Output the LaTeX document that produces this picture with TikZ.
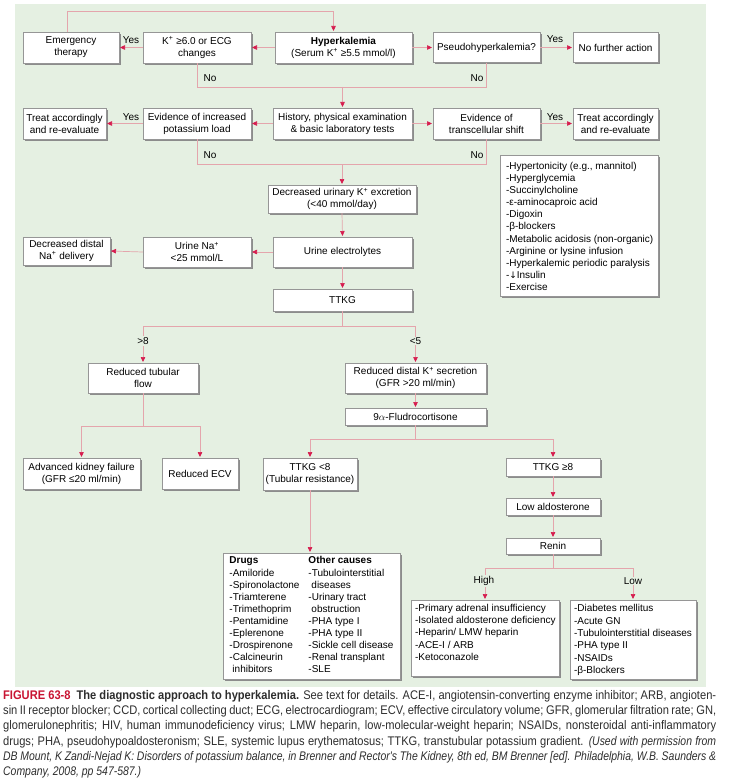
\documentclass[tikz,border=0pt]{standalone}
\usepackage{fontspec}
\setmainfont{Liberation Sans}
\newfontfamily\capfont[FakeStretch=0.89]{Liberation Sans}
\newfontfamily\capit[FakeStretch=0.835]{Liberation Sans}
\newfontfamily\dejavu{DejaVu Sans}
\usetikzlibrary{arrows.meta,shadows,calc}
\definecolor{bggreen}{RGB}{229,240,226}
\definecolor{linepink}{RGB}{228,165,172}
\definecolor{tipred}{RGB}{214,28,78}
\definecolor{boxline}{RGB}{150,150,150}
\definecolor{figred}{RGB}{200,20,50}
\definecolor{capgray}{RGB}{45,45,45}
\tikzset{
  box/.style={draw=boxline, line width=0.4pt, fill=white, inner sep=0pt, align=center,
    drop shadow={fill=black!45, opacity=1, shadow xshift=1.6pt, shadow yshift=-1.6pt}},
  conn/.style={draw=linepink, line width=0.7pt},
  arr/.style={conn, -{Triangle[length=5pt,width=4.5pt,color=tipred]}, shorten >=0.8pt},
  lbl/.style={inner sep=1pt, fill=bggreen},
}
\newcommand{\capital}[1]{{\capit\itshape #1}}
\begin{document}
\begin{tikzpicture}[x=1pt,y=-1pt, font=\fontsize{10}{12}\selectfont]
\useasboundingbox (0,0) rectangle (728,781);
\fill[bggreen] (15,4) rectangle (706,687);

% row 1
\node[box, minimum width=96pt, minimum height=31pt] (em) at (71,47.5) {Emergency\\therapy};
\node[box, minimum width=108pt, minimum height=31pt] (k6) at (197,47.5) {K\textsuperscript{+} ≥6.0 or ECG\\changes};
\node[box, minimum width=137pt, minimum height=31pt] (hk) at (343.5,47.5) {\textbf{Hyperkalemia}\\(Serum K\textsuperscript{+} ≥5.5 mmol/l)};
\node[box, minimum width=107pt, minimum height=30pt] (ps) at (486.5,47.5) {Pseudohyperkalemia?};
\node[box, minimum width=85pt, minimum height=30pt] (nf) at (615.5,47.5) {No further action};

% row 2
\node[box, minimum width=83pt, minimum height=31pt] (ta1) at (64.5,123.5) {Treat accordingly\\and re-evaluate};
\node[box, minimum width=108pt, minimum height=31pt] (ev1) at (197,123.5) {Evidence of increased\\potassium load};
\node[box, minimum width=139pt, minimum height=31pt] (hi) at (342.5,123.5) {History, physical examination\\\& basic laboratory tests};
\node[box, minimum width=107pt, minimum height=31pt] (ev2) at (486.5,123.5) {Evidence of\\transcellular shift};
\node[box, minimum width=85pt, minimum height=31pt] (ta2) at (615.5,123.5) {Treat accordingly\\and re-evaluate};

% transcellular list
\node[box, minimum width=158pt, minimum height=141pt] (tc) at (579,225.5) {\parbox[c][129pt][t]{146pt}{\fontsize{10}{12.1}\selectfont\begin{tabular}[t]{@{}l@{}}
-Hypertonicity (e.g., mannitol)\\
-Hyperglycemia\\
-Succinylcholine\\
-ε-aminocaproic acid\\
-Digoxin\\
-β-blockers\\
-Metabolic acidosis (non-organic)\\
-Arginine or lysine infusion\\
-Hyperkalemic periodic paralysis\\
-{\dejavu\fontsize{9}{12}\selectfont ↓}Insulin\\
-Exercise
\end{tabular}}};

% middle column
\node[box, minimum width=148pt, minimum height=28pt] (du) at (342,199) {Decreased urinary K\textsuperscript{+} excretion\\(<40 mmol/day)};
\node[box, minimum width=139pt, minimum height=30pt] (ue) at (342.5,252) {Urine electrolytes};
\node[box, minimum width=108pt, minimum height=30pt] (un) at (197,252) {Urine Na\textsuperscript{+}\\<25 mmol/L};
\node[box, minimum width=87pt, minimum height=28pt] (dd) at (66.5,251) {Decreased distal\\Na\textsuperscript{+} delivery};
\node[box, minimum width=139pt, minimum height=22pt] (tt) at (342.5,300) {TTKG};

\node[box, minimum width=110pt, minimum height=30pt] (rt) at (143,378) {Reduced tubular\\flow};
\node[box, minimum width=141pt, minimum height=30pt] (rd) at (415.5,378) {Reduced distal K\textsuperscript{+} secretion\\(GFR >20 ml/min)};
\node[box, minimum width=141pt, minimum height=17pt] (fl) at (415.5,416.5) {9$\alpha$-Fludrocortisone};

\node[box, minimum width=117pt, minimum height=31pt] (ak) at (81.5,473.5) {Advanced kidney failure\\(GFR ≤20 ml/min)};
\node[box, minimum width=76pt, minimum height=31pt] (re) at (200,473.5) {Reduced ECV};
\node[box, minimum width=94pt, minimum height=32pt] (t8) at (310,474) {TTKG <8\\(Tubular resistance)};
\node[box, minimum width=94pt, minimum height=18pt] (tg) at (553,467) {TTKG ≥8};
\node[box, minimum width=94pt, minimum height=17pt] (la) at (553,506.5) {Low aldosterone};
\node[box, minimum width=94pt, minimum height=16pt] (rn) at (553,546) {Renin};

% drugs box
\node[box, minimum width=177pt, minimum height=126pt] (dr) at (311.5,616) {\fontsize{10}{12.1}\selectfont\begin{tabular}{@{}p{79pt}@{}l@{}}
\textbf{Drugs} & \textbf{Other causes}\\
-Amiloride & -Tubulointerstitial\\
-Spironolactone & \hspace{3pt}diseases\\
-Triamterene & -Urinary tract\\
-Trimethoprim & \hspace{3pt}obstruction\\
-Pentamidine & -PHA type I\\
-Eplerenone & -PHA type II\\
-Drospirenone & -Sickle cell disease\\
-Calcineurin & -Renal transplant\\
\hspace{3pt}inhibitors & -SLE
\end{tabular}};

\node[box, minimum width=148pt, minimum height=76pt] (hb) at (485,638) {\parbox[c][70pt][t]{140pt}{\fontsize{10}{12.2}\selectfont\begin{tabular}[t]{@{}l@{}}
-Primary adrenal insufficiency\\
-Isolated aldosterone deficiency\\
-Heparin/ LMW heparin\\
-ACE-I / ARB\\
-Ketoconazole
\end{tabular}}};
\node[box, minimum width=126pt, minimum height=79pt] (lb) at (633,639.5) {\parbox[c][73pt][t]{118pt}{\fontsize{10}{12.4}\selectfont\begin{tabular}[t]{@{}l@{}}
-Diabetes mellitus\\
-Acute GN\\
-Tubulointerstitial diseases\\
-PHA type II\\
-NSAIDs\\
-β-Blockers
\end{tabular}}};

% connectors row 1
\draw[arr] ([xshift=-4pt]em.north) -- ++(0,-20) -| ([xshift=-10pt]hk.north);
\draw[arr] (hk.west) -- (k6.east);
\draw[arr] (k6.west) -- (em.east);
\draw[arr] (hk.east) -- (ps.west);
\draw[arr] (ps.east) -- (nf.west);
\node[lbl, fill=none] (y1) at (131,40) {Yes};
\node[lbl, fill=none] (y2) at (555,39) {Yes};
\coordinate (j1) at (342.5,87);
\draw[conn] (k6.south) |- (j1);
\draw[conn] (ps.south) |- (j1);
\draw[arr] (j1) -- (hi.north);
\node[lbl, fill=none] (n1) at (210,78) {No};
\node[lbl, fill=none] (n2) at (477,78) {No};

% connectors row 2
\draw[arr] (hi.west) -- (ev1.east);
\draw[arr] (ev1.west) -- (ta1.east);
\draw[arr] (hi.east) -- (ev2.west);
\draw[arr] (ev2.east) -- (ta2.west);
\node[lbl, fill=none] (y3) at (131,117) {Yes};
\node[lbl, fill=none] (y4) at (555,117) {Yes};
\coordinate (j2) at (342,164);
\draw[conn] (ev1.south) |- (j2);
\draw[conn] (ev2.south) |- (j2);
\draw[arr] (j2) -- (du.north);
\node[lbl, fill=none] (n3) at (210,155) {No};
\node[lbl, fill=none] (n4) at (477,155) {No};

% middle
\draw[arr] (du.south) -- (ue.north);
\draw[arr] (ue.west) -- (un.east);
\draw[arr] (un.west) -- (dd.east);
\draw[arr] (ue.south) -- (tt.north);
\draw[arr] (tt.south) -- ++(0,15) -| (rt.north);
\draw[arr] (tt.south) -- ++(0,15) -| (rd.north);
\node[lbl] (g8) at (143,341) {>8};
\node[lbl] (l5) at (415.5,341) {<5};
\draw[arr] (rd.south) -- (fl.north);
\draw[arr] (rt.south) -- ++(0,33) -| (ak.north);
\draw[arr] (rt.south) -- ++(0,33) -| (re.north);
\draw[arr] (fl.south) -- ++(0,14) -| (t8.north);
\draw[arr] (fl.south) -- ++(0,14) -| (tg.north);
\draw[arr] (t8.south) -- (t8.south |- dr.north);
\draw[arr] (tg.south) -- (la.north);
\draw[arr] (la.south) -- (rn.north);
\draw[arr] (rn.south) -- ++(0,14) -| (hb.north);
\draw[arr] (rn.south) -- ++(0,14) -| (lb.north);
\node[lbl] (hl) at (484,581) {High};
\node[lbl] (ll) at (633,581) {Low};

% caption
\node[anchor=north west, inner sep=0pt, align=left, text=capgray,
      font=\capfont\fontsize{12.5}{15.3}\selectfont] (cap) at (3,690) {%
\makebox[713pt][s]{\textcolor{figred}{\textbf{FIGURE 63-8}}\hspace{6pt}\textbf{The diagnostic approach to hyperkalemia.} See text for details. ACE-I, angiotensin-converting enzyme inhibitor; ARB, angioten-}\\
\makebox[713pt][s]{sin II receptor blocker; CCD, cortical collecting duct; ECG, electrocardiogram; ECV, effective circulatory volume; GFR, glomerular filtration rate; GN,}\\
\makebox[713pt][s]{glomerulonephritis; HIV, human immunodeficiency virus; LMW heparin, low-molecular-weight heparin; NSAIDs, nonsteroidal anti-inflammatory}\\
\makebox[713pt][s]{drugs; PHA, pseudohypoaldosteronism; SLE, systemic lupus erythematosus; TTKG, transtubular potassium gradient. \capital{(Used with permission from}}\\
\makebox[713pt][s]{\capital{DB Mount, K Zandi-Nejad K: Disorders of potassium balance, in Brenner and Rector's The Kidney, 8th ed, BM Brenner [ed]. Philadelphia, W.B. Saunders \&}}\\
\capital{Company, 2008, pp 547-587.)}};
\end{tikzpicture}
\end{document}
